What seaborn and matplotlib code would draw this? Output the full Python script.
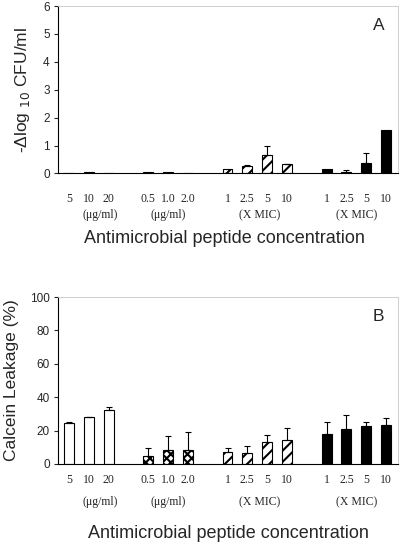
import numpy as np
import pandas as pd
import matplotlib
matplotlib.use("Agg")
import matplotlib.pyplot as plt
import seaborn as sns

sns.set_style("white")
plt.rcParams['font.family'] = ['Liberation Sans', 'DejaVu Sans']
plt.rcParams['hatch.linewidth'] = 1.5

# data
group = ["g1"] * 3 + ["g2"] * 3 + ["g3"] * 4 + ["g4"] * 4
tick_labels = ["5", "10", "20", "0.5", "1.0", "2.0",
               "1", "2.5", "5", "10", "1", "2.5", "5", "10"]
unit_labels = ["(\u03bcg/ml)", "(\u03bcg/ml)", "(X MIC)", "(X MIC)"]

cfu = [0.0, 0.05, 0.0, 0.05, 0.05, 0.02,
       0.15, 0.28, 0.67, 0.33, 0.15, 0.05, 0.38, 1.55]
cfu_err = [0, 0, 0, 0, 0, 0,
           0, 0.04, 0.33, 0.02, 0, 0.08, 0.35, 0]

leak = [24.6, 28.1, 32.2, 4.8, 8.5, 8.2,
        7.4, 6.4, 13.0, 14.6, 18.2, 21.2, 22.9, 23.6]
leak_err = [0.8, 0.3, 2.0, 5.0, 8.0, 11.0,
            2.4, 4.2, 4.4, 7.0, 7.0, 8.0, 2.0, 3.7]

# bar slots with gaps between groups
slots = [0, 1, 2, 4, 5, 6, 8, 9, 10, 11, 13, 14, 15, 16]
unit_x = [1.6, 5.0, 9.6, 14.5]

df = pd.DataFrame({"pos": slots, "group": group, "label": tick_labels,
                   "cfu": cfu, "cfu_err": cfu_err,
                   "leak": leak, "leak_err": leak_err})

styles = {"g1": ("white", ""), "g2": ("white", "xxxx"),
          "g3": ("white", "///"), "g4": ("black", "")}

fig = plt.figure(figsize=(4.0, 5.49), dpi=100)
axA = fig.add_axes([0.145, 0.684, 0.85, 0.305])
axB = fig.add_axes([0.145, 0.155, 0.85, 0.304])


def draw_panel(ax, col, ecol, ymax, ystep, letter, ylabel, tick_pad, unit_y, title_x, title_y):
    for g, (c, h) in styles.items():
        sub = df[df["group"] == g]
        sns.barplot(data=sub, x="pos", y=col, native_scale=True, color=c,
                    saturation=1, edgecolor="black", linewidth=0.8,
                    width=0.5, hatch=h, errorbar=None, ax=ax)
    has = df[df[ecol] > 0]
    ax.errorbar(has["pos"], has[col], yerr=[np.zeros(len(has)), has[ecol]],
                fmt="none", ecolor="black", elinewidth=0.8, capsize=2.5,
                capthick=0.8)
    ax.set_xlim(-0.55, 16.6)
    ax.set_ylim(0, ymax)
    ax.set_yticks(np.arange(0, ymax + 0.01, ystep))
    ax.set_xticks(df["pos"])
    ax.set_xticklabels(df["label"], family=["Liberation Serif", "DejaVu Serif"],
                       fontsize=8.5)
    ax.tick_params(axis="x", length=0, pad=tick_pad)
    ax.tick_params(axis="y", length=3, width=0.8, direction="out", left=True,
                   labelsize=8.5, pad=3)
    ax.set_xlabel("")
    ax.set_ylabel(ylabel, fontsize=12.5, labelpad=8)
    for side in ["left", "bottom"]:
        ax.spines[side].set_color("black")
        ax.spines[side].set_linewidth(0.8)
    for side in ["top", "right"]:
        ax.spines[side].set_color("#c8c8c8")
        ax.spines[side].set_linewidth(0.6)
    ax.text(0.96, 0.93, letter, transform=ax.transAxes, ha="right", va="top",
            fontsize=12.5)
    trans = ax.get_xaxis_transform()
    for ux, ut in zip(unit_x, unit_labels):
        ax.text(ux, unit_y, ut, transform=trans, ha="center", va="center",
                family=["Liberation Serif", "DejaVu Serif"], fontsize=8.5)
    ax.text(title_x, title_y, "Antimicrobial peptide concentration",
            transform=ax.transAxes, ha="center", va="center", fontsize=13)


draw_panel(axA, "cfu", "cfu_err", 6, 1, "A", "-\u0394log $_{10}$ CFU/ml",
           14, -0.25, 0.49, -0.39)
draw_panel(axB, "leak", "leak_err", 100, 20, "B", "Calcein Leakage (%)",
           7, -0.23, 0.50, -0.415)

fig.savefig("out.png", dpi=100)
